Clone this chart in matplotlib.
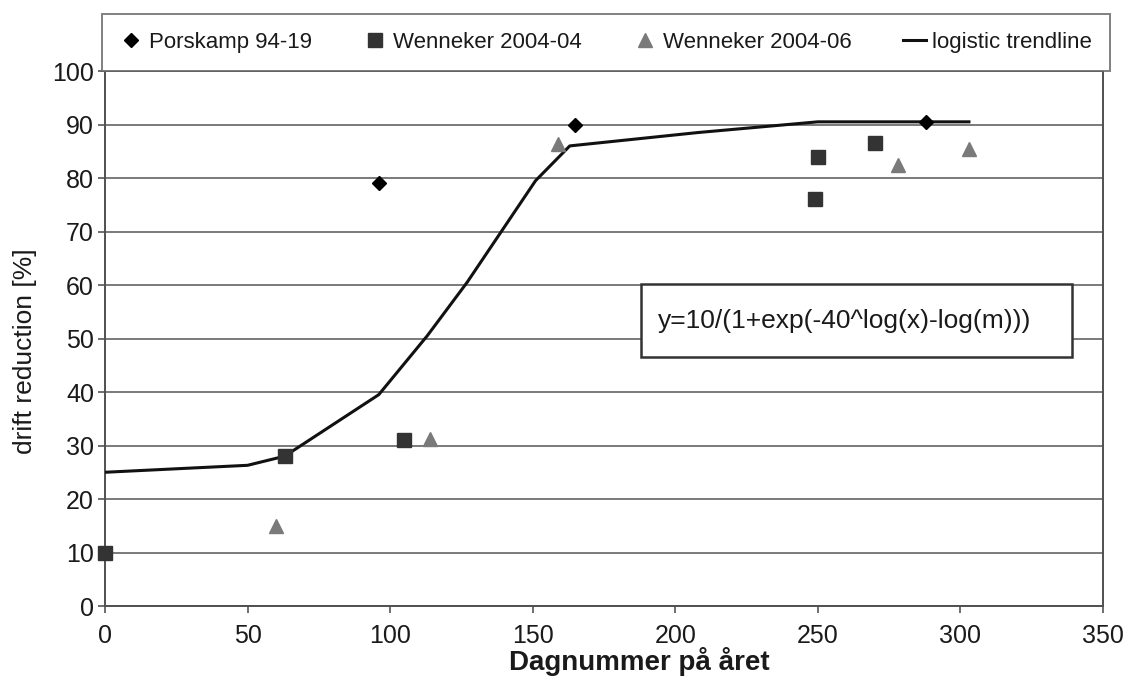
import matplotlib.pyplot as plt
from matplotlib.patches import Rectangle

plt.rcParams['font.family'] = ['Liberation Sans', 'DejaVu Sans']

# Porskamp 94-19
pors_x = [96, 165, 288]
pors_y = [79, 90, 90.5]

# Wenneker 2004-04
wen04_x = [0, 63, 105, 249, 250, 270]
wen04_y = [10, 28, 31, 76, 84, 86.5]

# Wenneker 2004-06
wen06_x = [60, 114, 159, 278, 303]
wen06_y = [15, 31.3, 86.3, 82.5, 85.5]

# logistic trendline
trend_x = [0, 50, 63, 96, 113, 127, 139, 151, 163, 208, 250, 303]
trend_y = [25, 26.3, 28, 39.5, 50.5, 60.5, 70, 79.5, 86, 88.5, 90.5, 90.5]

formula = "y=10/(1+exp(-40^log(x)-log(m)))"

fig = plt.figure(figsize=(11.28, 6.86), dpi=100)
ax = fig.add_axes([0.0931, 0.1166, 0.8847, 0.7799])

ax.plot(pors_x, pors_y, 'D', color='black', markersize=7.5, label='Porskamp 94-19', zorder=4)
ax.plot(wen04_x, wen04_y, 's', color='#333333', markersize=9.5, label='Wenneker 2004-04', zorder=4,
        clip_on=False)
ax.plot(wen06_x, wen06_y, '^', color='#7a7a7a', markersize=10, label='Wenneker 2004-06', zorder=4)
ax.plot(trend_x, trend_y, '-', color='#111111', linewidth=2.2, label='logistic trendline', zorder=3)

ax.set_xlim(0, 350)
ax.set_ylim(0, 100)
ax.set_xticks(range(0, 351, 50))
ax.set_yticks(range(0, 101, 10))
ax.tick_params(axis='both', labelsize=18, colors='#555555', labelcolor='#1a1a1a',
               length=5, width=1.2, direction='out')
ax.tick_params(axis='x', pad=8)
ax.tick_params(axis='y', pad=3)
ax.grid(axis='y', color='#707070', linewidth=1.3)
ax.set_axisbelow(True)
for side in ['left', 'bottom', 'right']:
    ax.spines[side].set_color('#505050')
    ax.spines[side].set_linewidth(1.4)
ax.spines['top'].set_color('#707070')
ax.spines['top'].set_linewidth(1.3)

ax.set_xlabel('Dagnummer på året', fontsize=20, fontweight='bold', color='#1a1a1a')
ax.xaxis.set_label_coords(0.535, -0.076)
ax.set_ylabel('drift reduction [%]', fontsize=19, color='#1a1a1a')
ax.yaxis.set_label_coords(-0.068, 0.477)

# formula box
ax.add_patch(Rectangle((188, 46.5), 151, 13.7, facecolor='white', edgecolor='#333333',
                       linewidth=1.8, zorder=5))
ax.text(194, 53.3, formula, fontsize=19, color='#1a1a1a', va='center', ha='left', zorder=6)

leg = ax.legend(loc='lower left', bbox_to_anchor=(-0.003, 1.0, 1.01, 0.118), mode='expand',
                ncol=4, borderaxespad=0, fontsize=16, frameon=True, fancybox=False,
                handlelength=1.0, handletextpad=0.3, columnspacing=0.8, borderpad=0.8)
leg.get_frame().set_edgecolor('#606060')
leg.get_frame().set_linewidth(1.4)
for txt in leg.get_texts():
    txt.set_color('#1a1a1a')

fig.savefig('out.png', dpi=100)
